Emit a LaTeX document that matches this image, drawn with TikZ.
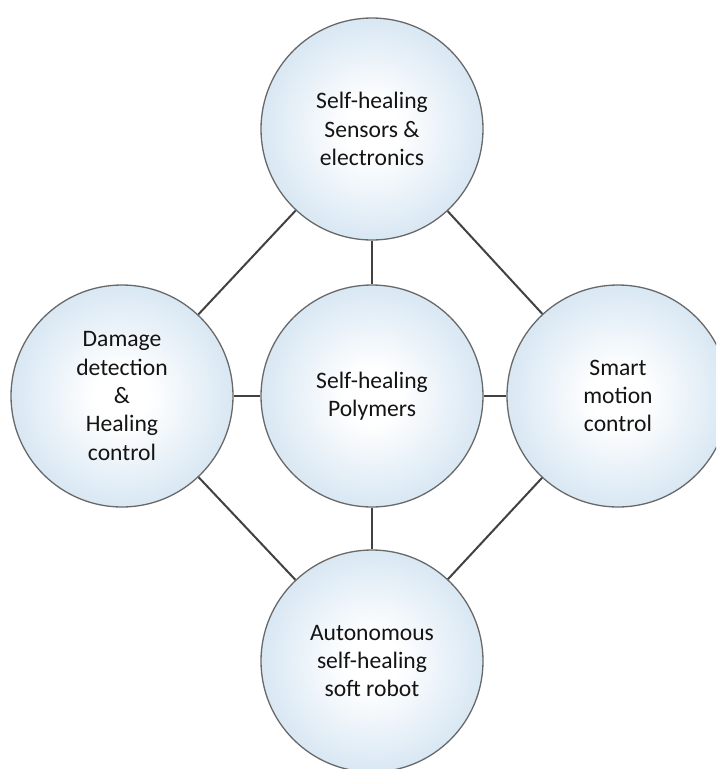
\documentclass[tikz,border=0pt]{standalone}
\usepackage{fontspec}
\setmainfont{Carlito}
\definecolor{balledge}{RGB}{180,209,232}
\definecolor{ballline}{RGB}{105,105,105}
\definecolor{linkcol}{RGB}{65,65,65}
\definecolor{txtcol}{RGB}{20,20,20}
\pgfdeclareradialshading{ballshade}{\pgfpoint{0bp}{0bp}}{color(0bp)=(white); color(6bp)=(white); color(30bp)=(balledge!65!white); color(50bp)=(balledge); color(100bp)=(balledge)}
\begin{document}
\begin{tikzpicture}[x=1pt,y=-1pt,
  ball/.style={circle, minimum size=222pt, inner sep=0pt, draw=ballline, line width=1.3pt,
    shading=ballshade, align=center, text=txtcol,
    font=\fontsize{23.6}{28.4}\selectfont},
  link/.style={draw=linkcol, line width=2pt}]
\useasboundingbox (0,0) rectangle (716,769);
\clip (0,0) rectangle (716,769);
\node[ball] (top) at (372,129) {Self-healing\\Sensors \&\\electronics};
\node[ball] (left) at (122,396) {Damage\\detection\\\&\\Healing\\control};
\node[ball] (mid) at (372,396) {Self-healing\\Polymers};
\node[ball] (right) at (618,396) {Smart\\motion\\control};
\node[ball] (bot) at (372,661) {Autonomous\\self-healing\\soft robot};
\draw[link] (top) -- (mid);
\draw[link] (mid) -- (bot);
\draw[link] (left) -- (mid);
\draw[link] (mid) -- (right);
\draw[link] (top) -- (left);
\draw[link] (top) -- (right);
\draw[link] (bot) -- (left);
\draw[link] (bot) -- (right);
\end{tikzpicture}
\end{document}
